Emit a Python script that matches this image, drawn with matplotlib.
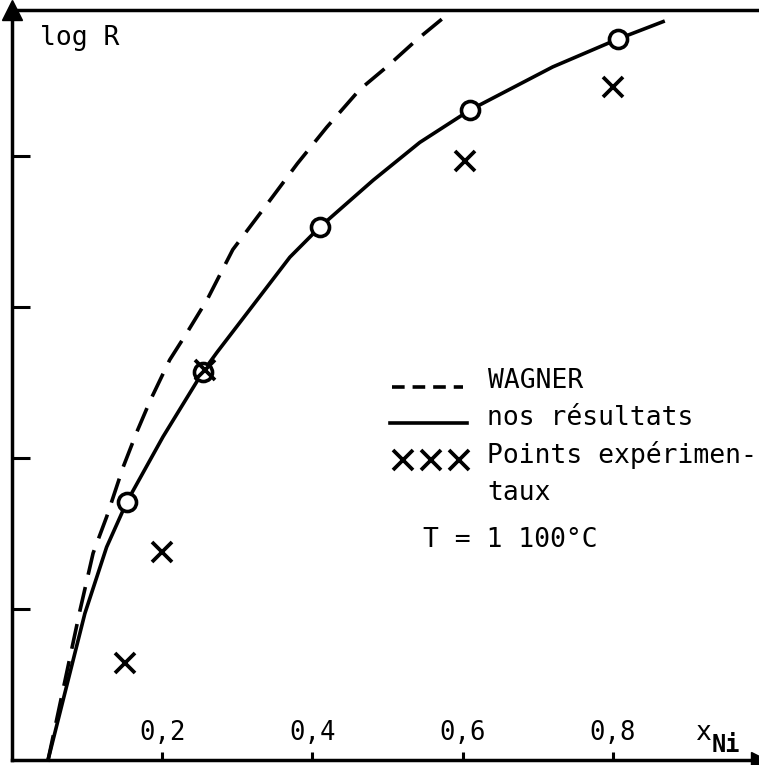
import matplotlib.pyplot as plt

# values (y in arbitrary log R units, one tick = 1)
circle_x = [0.153, 0.254, 0.410, 0.610, 0.807]
circle_y = [1.71, 2.57, 3.53, 4.305, 4.775]

cross_x = [0.150, 0.200, 0.257, 0.603, 0.800]
cross_y = [0.64, 1.38, 2.58, 3.97, 4.46]

solid_x = [0.048, 0.097, 0.126, 0.153, 0.201, 0.254, 0.273, 0.330, 0.370,
           0.410, 0.481, 0.543, 0.610, 0.720, 0.807, 0.867]
solid_y = [0.0, 0.97, 1.41, 1.71, 2.14, 2.57, 2.70, 3.07, 3.33,
           3.53, 3.84, 4.09, 4.305, 4.59, 4.775, 4.89]

wagner_x = [0.048, 0.0905, 0.108, 0.126, 0.148, 0.166, 0.184, 0.210, 0.233,
            0.260, 0.294, 0.344, 0.380, 0.419, 0.463, 0.499, 0.539, 0.583]
wagner_y = [0.0, 0.99, 1.37, 1.61, 1.94, 2.17, 2.38, 2.65, 2.83,
            3.05, 3.38, 3.71, 3.95, 4.19, 4.44, 4.59, 4.77, 4.95]

xticks = [0.2, 0.4, 0.6, 0.8]
xtick_labels = ["0,2", "0,4", "0,6", "0,8"]
yticks = [1, 2, 3, 4]

font = "DejaVu Sans Mono"
fs = 19
lw = 2.6

fig = plt.figure(figsize=(7.59, 7.65), dpi=100)
ax = fig.add_axes([12 / 759, 5 / 765, 747 / 759, 750 / 765])

ax.plot(wagner_x, wagner_y, color="black", lw=lw, dashes=(7, 3.5), clip_on=False,
        solid_joinstyle="round", dash_joinstyle="round")
ax.plot(solid_x, solid_y, color="black", lw=lw, clip_on=False, solid_joinstyle="round")
ax.plot(circle_x, circle_y, "o", ms=13, mfc="white", mec="black", mew=2.6, zorder=3)
ax.plot(cross_x, cross_y, "x", ms=14, color="black", mew=2.7, zorder=4)

ax.set_xlim(0, 0.9947)
ax.set_ylim(0, 4.967)

ax.spines["right"].set_visible(False)
for s in ["left", "bottom", "top"]:
    ax.spines[s].set_linewidth(2.5)

ax.set_xticks(xticks)
ax.set_xticklabels([])
ax.set_yticks(yticks)
ax.set_yticklabels([])
ax.tick_params(axis="x", direction="in", length=6, width=2.2)
ax.tick_params(axis="y", direction="in", length=13, width=2.2)

# tick labels sit above the axis, inside the frame
for xv, lab in zip(xticks, xtick_labels):
    ax.text(xv, 0.027, lab, transform=ax.get_xaxis_transform(), ha="center",
            va="baseline", family=font, fontsize=18.5)

# axis arrows
ax.plot([0], [1], marker="^", ms=15, color="black", transform=ax.transAxes, clip_on=False)
ax.plot([1], [0], marker=">", ms=12, color="black", transform=ax.transAxes, clip_on=False)

ax.text(0.0375, 0.953, "log R", transform=ax.transAxes, family=font, fontsize=fs, va="baseline")
ax.text(0.914, 0.027, "x", transform=ax.transAxes, family=font, fontsize=fs, va="baseline")
ax.text(0.937, 0.011, "Ni", transform=ax.transAxes, family=font, fontsize=17,
        va="baseline", fontweight="bold")

# hand drawn legend
ax.plot([0.509, 0.604], [0.497, 0.497], color="black", lw=lw, dashes=(3.5, 2.2),
        transform=ax.transAxes)
ax.text(0.637, 0.496, "WAGNER", transform=ax.transAxes, family=font, fontsize=fs, va="baseline")
ax.plot([0.506, 0.609], [0.449, 0.449], color="black", lw=lw, transform=ax.transAxes)
ax.text(0.636, 0.447, "nos résultats", transform=ax.transAxes, family=font, fontsize=fs,
        va="baseline")
ax.plot([0.523, 0.561, 0.598], [0.40, 0.40, 0.40], "x", ms=15, mew=2.7, color="black",
        transform=ax.transAxes)
ax.text(0.636, 0.396, "Points expérimen-", transform=ax.transAxes, family=font, fontsize=fs,
        va="baseline")
ax.text(0.636, 0.347, "taux", transform=ax.transAxes, family=font, fontsize=fs, va="baseline")
ax.text(0.550, 0.284, "T = 1 100°C", transform=ax.transAxes, family=font, fontsize=fs,
        va="baseline")

fig.savefig("out.png", dpi=100)
